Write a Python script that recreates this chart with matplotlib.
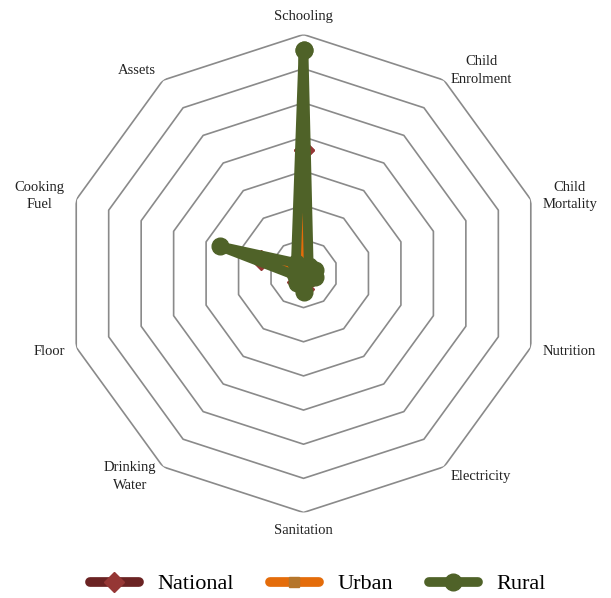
"""Radar chart of deprivation contributions: national, urban and rural."""
import numpy as np
import matplotlib
matplotlib.use("Agg")
import matplotlib.pyplot as plt

categories = ["Schooling", "Child\nEnrolment", "Child\nMortality", "Nutrition",
              "Electricity", "Sanitation", "Drinking\nWater", "Floor",
              "Cooking\nFuel", "Assets"]
national = [18.1, 1.2, 1.4, 1.4, 1.0, 2.3, 1.5, 1.0, 6.5, 1.5]
urban = [13.5, 1.0, 1.3, 1.3, 0.8, 2.0, 1.3, 0.8, 4.0, 1.3]
rural = [32.7, 1.3, 1.7, 1.7, 1.0, 2.7, 1.7, 1.1, 12.8, 1.9]
ring_values = [5, 10, 15, 20, 25, 30, 35]

plt.rcParams["font.family"] = ["Liberation Serif", "DejaVu Serif"]

fig = plt.figure(figsize=(6.11, 5.98), dpi=100)
ax = fig.add_axes([0.1056, 0.143, 0.7823, 0.7993], projection="polar")
ax.set_theta_offset(np.pi / 2)
ax.set_theta_direction(-1)
ax.set_ylim(0, 35)
ax.grid(False)
ax.spines["polar"].set_visible(False)
ax.set_xticks([])
ax.set_yticks([])
ax.patch.set_alpha(0)

n = len(categories)
theta = np.linspace(0, 2 * np.pi, n, endpoint=False)
closed = np.append(theta, theta[0])

for rv in ring_values:
    ax.plot(closed, [rv] * (n + 1), color="#8a8a8a", lw=1.2, zorder=1)

series = [
    ("National", national, "#6b2323", "D", "#953735", 10),
    ("Urban", urban, "#e46c0a", "s", "#b5762c", 7),
    ("Rural", rural, "#4f6228", "o", "#4f6228", 12),
]
for name, vals, col, mk, mcol, ms in series:
    ax.plot(closed, np.append(vals, vals[0]), color=col, lw=7, marker=mk,
            ms=ms, mfc=mcol, mec=mcol, solid_capstyle="round",
            solid_joinstyle="round", label=name, zorder=3, clip_on=False)

# axis labels just outside the outer ring
for ang, lab in zip(theta, categories):
    # screen direction of this spoke
    a = np.pi / 2 - ang
    c, s = np.cos(a), np.sin(a)
    ha = "center" if abs(c) < 0.01 else ("left" if c > 0 else "right")
    va = "center"
    if abs(c) < 0.01:
        va = "bottom" if s > 0 else "top"
    ax.text(ang, 35 * 1.05, lab, ha=ha, va=va, ma="center",
            fontsize=10.5, color="#222222", linespacing=1.45)

fig.legend(loc="center", bbox_to_anchor=(318 / 611, 1 - 584 / 598), ncol=3,
           frameon=False, fontsize=16, handlelength=2.2,
           handletextpad=0.85, columnspacing=1.6)

fig.savefig("out.png", dpi=100)
